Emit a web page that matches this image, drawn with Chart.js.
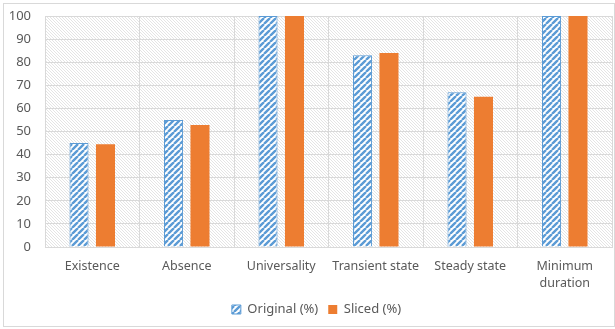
<!DOCTYPE html>
<html>
<head>
<meta charset="utf-8">
<script src="https://cdn.jsdelivr.net/npm/chart.js@4/dist/chart.umd.min.js"></script>
<style>
  html, body { margin: 0; padding: 0; background: #ffffff; }
  #wrap { width: 615px; height: 329px; position: relative; }
</style>
</head>
<body>
<div id="wrap"><canvas id="c" width="615" height="329"></canvas></div>
<script>
const categories = ['Existence', 'Absence', 'Universality', 'Transient state', 'Steady state', ['Minimum', 'duration']];
const originalValues = [45, 55, 100, 83, 67, 100];
const slicedValues = [44.5, 52.8, 100, 84, 65, 100];
const yTicks = [0, 10, 20, 30, 40, 50, 60, 70, 80, 90, 100];

const BLUE = '#5B9BD5';
const ORANGE = '#ED7D31';
const TEXT = '#595959';
const GRID = '#d9d9d9';

function makeStripePattern() {
  const s = 6;
  const cv = document.createElement('canvas');
  cv.width = s; cv.height = s;
  const g = cv.getContext('2d');
  g.fillStyle = '#ffffff';
  g.fillRect(0, 0, s, s);
  g.strokeStyle = BLUE;
  g.lineWidth = 2.4;
  g.beginPath();
  for (let k = -1; k <= 1; k++) {
    g.moveTo(k * s, s);
    g.lineTo(k * s + s, 0);
  }
  g.stroke();
  return g.createPattern(cv, 'repeat');
}

function makeBgPattern() {
  const s = 3;
  const cv = document.createElement('canvas');
  cv.width = s; cv.height = s;
  const g = cv.getContext('2d');
  g.fillStyle = '#ffffff';
  g.fillRect(0, 0, s, s);
  g.fillStyle = '#e4e4e4';
  for (let i = 0; i < s; i++) g.fillRect(i, i, 1, 1);
  return g.createPattern(cv, 'repeat');
}

const ctx = document.getElementById('c').getContext('2d');
const stripe = makeStripePattern();
const bgPat = makeBgPattern();

const plotBg = {
  id: 'plotBg',
  afterLayout(chart) {
    if (chart.legend) {
      chart.legend.left += 8;
      chart.legend.right += 8;
    }
  },
  beforeDraw(chart) {
    const { ctx, chartArea: a } = chart;
    ctx.save();
    ctx.fillStyle = '#ffffff';
    ctx.fillRect(0, 0, chart.width, chart.height);
    ctx.fillStyle = bgPat;
    ctx.fillRect(a.left, a.top, a.right - a.left, a.bottom - a.top);
    ctx.restore();
  },
  afterDraw(chart) {
    const { ctx } = chart;
    ctx.save();
    ctx.strokeStyle = GRID;
    ctx.lineWidth = 1;
    ctx.strokeRect(3.5, 3.5, chart.width - 4, chart.height - 6);
    ctx.restore();
  }
};

new Chart(ctx, {
  type: 'bar',
  data: {
    labels: categories,
    datasets: [
      {
        label: 'Original (%)',
        data: originalValues,
        backgroundColor: stripe,
        borderColor: BLUE,
        borderWidth: 1,
        categoryPercentage: 0.56,
        barPercentage: 0.72
      },
      {
        label: 'Sliced (%)',
        data: slicedValues,
        backgroundColor: ORANGE,
        borderColor: ORANGE,
        borderWidth: 0,
        categoryPercentage: 0.56,
        barPercentage: 0.72
      }
    ]
  },
  options: {
    responsive: false,
    animation: false,
    devicePixelRatio: 1,
    layout: { padding: { left: 5, right: 3, top: 16, bottom: 3 } },
    scales: {
      x: {
        grid: { color: GRID, lineWidth: 1, drawTicks: false, offset: true },
        border: { display: true, color: GRID },
        ticks: {
          color: TEXT,
          padding: 11,
          maxRotation: 0,
          autoSkip: false,
          font: { family: 'Noto Sans', size: 12.5, lineHeight: 1.35 }
        },
        afterFit(scale) { scale.height = 46; }
      },
      y: {
        min: 0,
        max: 100,
        afterBuildTicks(scale) { scale.ticks = yTicks.map(v => ({ value: v })); },
        grid: { color: GRID, lineWidth: 1, drawTicks: false },
        border: { display: true, color: GRID },
        ticks: {
          color: TEXT,
          padding: 14,
          font: { family: 'Noto Sans', size: 13 }
        },
        afterFit(scale) {
          scale.width = 40;
          scale.paddingTop = 6;
          scale.paddingBottom = 6;
        }
      }
    },
    plugins: {
      legend: {
        position: 'bottom',
        labels: {
          color: TEXT,
          boxWidth: 9,
          boxHeight: 9,
          padding: 10,
          font: { family: 'Noto Sans', size: 13 }
        }
      },
      tooltip: { enabled: false }
    }
  },
  plugins: [plotBg]
});
</script>
</body>
</html>
